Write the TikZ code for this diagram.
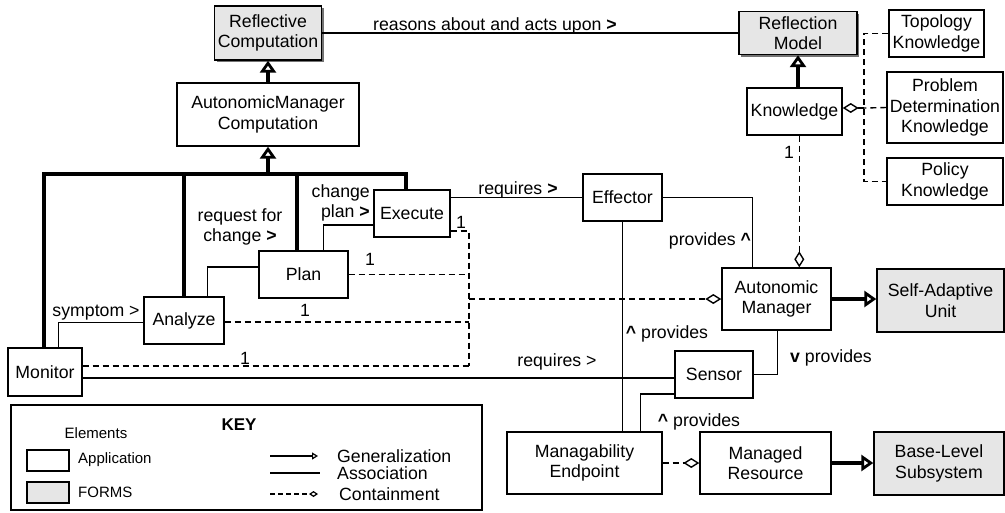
\documentclass[tikz,border=0pt]{standalone}
\usepackage{fontspec}
\setmainfont{Liberation Sans}
\usetikzlibrary{arrows.meta,calc,shadows}
\definecolor{formgray}{RGB}{230,230,230}
\newcommand{\mainsz}{\fontsize{17.7}{20.5}\selectfont}
\newcommand{\keysz}{\fontsize{15}{18}\selectfont}
\newcommand{\up}{{\bfseries\textasciicircum}}
\newcommand{\gt}{{\bfseries >}}
\begin{document}
\begin{tikzpicture}[x=1pt,y=-1pt,
  abox/.style={draw, line width=1.4pt, inner sep=0pt, align=center, font=\mainsz},
  fbox/.style={abox, fill=formgray},
  shadowed/.style={drop shadow={shadow xshift=2pt, shadow yshift=-2pt, fill=black!55, opacity=1}},
  lab/.style={inner sep=0pt, font=\mainsz},
  keytext/.style={inner sep=0pt, font=\keysz},
  assoc/.style={line width=1.4pt},
  bus/.style={line width=4pt},
  gen/.style={line width=4pt, -{Triangle[open, length=12pt, width=16pt, line width=2.8pt]}},
  contain/.style={line width=1.4pt, dash pattern=on 6pt off 4pt, -{Diamond[open, length=16pt, width=10pt, line width=1.4pt, sep=0pt]}},
  dashline/.style={line width=1.4pt, dash pattern=on 6pt off 4pt}
]
\useasboundingbox (0,0) rectangle (1005,512);

% ---------- nodes ----------
\node[fbox, shadowed, minimum width=107pt, minimum height=54pt] (rc) at (268,33) {Reflective\\Computation};
\node[abox, minimum width=182pt, minimum height=63pt] (amc) at (268,114.5) {AutonomicManager\\Computation};
\node[fbox, shadowed, minimum width=118pt, minimum height=43pt] (rm) at (798,33) {Reflection\\Model};
\node[abox, minimum width=95pt, minimum height=47pt] (know) at (794.5,111.5) {Knowledge};
\node[abox, minimum width=95pt, minimum height=47pt] (topo) at (936.5,33.5) {Topology\\Knowledge};
\node[abox, minimum width=116pt, minimum height=71pt] (pdk) at (945,107.5) {Problem\\Determination\\Knowledge};
\node[abox, minimum width=116pt, minimum height=47pt] (pol) at (945,181.5) {Policy\\Knowledge};
\node[abox, minimum width=76pt, minimum height=47pt] (exe) at (412,213.5) {Execute};
\node[abox, minimum width=89pt, minimum height=47pt] (plan) at (303.5,274.5) {Plan};
\node[abox, minimum width=80pt, minimum height=47pt] (ana) at (184,320.5) {Analyze};
\node[abox, minimum width=74pt, minimum height=48pt] (mon) at (45,372) {Monitor};
\node[abox, minimum width=79pt, minimum height=47pt] (eff) at (622.5,197.5) {Effector};
\node[abox, minimum width=109pt, minimum height=62pt] (am) at (776.5,299) {Autonomic\\Manager};
\node[fbox, minimum width=127pt, minimum height=63pt] (sau) at (940.5,300.5) {Self-Adaptive\\Unit};
\node[abox, minimum width=78pt, minimum height=47pt] (sen) at (714,374.5) {Sensor};
\node[abox, minimum width=155pt, minimum height=62pt] (mep) at (584.5,463) {Managability\\Endpoint};
\node[abox, minimum width=131pt, minimum height=62pt] (mr) at (765.5,463) {Managed\\Resource};
\node[fbox, minimum width=130pt, minimum height=63pt] (bls) at (939,463.5) {Base-Level\\Subsystem};

% ---------- generalization tree ----------
\coordinate (b1) at (44,174);
\coordinate (b2) at (184,174);
\coordinate (b3) at (297,174);
\coordinate (b4) at (406,174);
\coordinate (bm) at (268,174);
\draw[bus, line join=miter] (b1 |- mon.north) -- (b1) -- (b4) -- (b4 |- exe.north);
\draw[bus] (b2) -- (b2 |- ana.north);
\draw[bus] (b3) -- (b3 |- plan.north);
\draw[gen] (bm) -- (amc.south);
\draw[gen] (amc.north) -- (rc.south);
\draw[gen] (rm.south |- know.north) -- (rm.south);
\draw[gen] (am.east) -- (am.east -| sau.west);
\draw[gen] (mr.east) -- (mr.east -| bls.west);

% ---------- associations ----------
\draw[assoc] (rc.east) -- (rm.west);
\node[lab] (l1) at (495,26) {reasons about and acts upon \gt};

\draw[assoc] ($(mon.north west)+(51,0)$) |- ([yshift=-2pt]ana.west);
\node[lab] (l2) at (96,313) {symptom >};

\draw[assoc] ($(ana.north west)+(64,0)$) |- ([yshift=7.5pt]plan.west);
\node[lab, align=center] (l3) at (240,227) {request for\\change \gt};

\draw[assoc] ($(plan.north west)+(65,0)$) |- ([yshift=-11.5pt]exe.west);
\node[lab, align=right, anchor=east] (l4) at (370,203) {change\\plan \gt};

\draw[assoc] ([yshift=16pt]exe.east) -- ([yshift=16pt]exe.east -| eff.west);
\node[lab] (l5) at (518,190) {requires \gt};

\draw[assoc] (eff.east) -| ($(am.north west)+(31,0)$);
\node[lab] (l6) at (710,241) {provides \up};

\draw[assoc] (eff.south) -- (eff.south |- mep.north);
\node[lab] (l7) at (667,334) {\up{} provides};

\draw[assoc] (sen.east) -| ($(am.south west)+(56,0)$);
\node[lab] (l8) at (831,358) {{\bfseries v} provides};

\draw[assoc] ([yshift=-6pt]mon.east) -- ([yshift=-6pt]mon.east -| sen.west);
\node[lab] (l9) at (557,362) {requires >};

\draw[assoc] ($(mep.north west)+(134,0)$) |- ([yshift=-19.5pt]sen.west);
\node[lab] (l10) at (699,422) {\up{} provides};

% ---------- containment (left) ----------
\coordinate (sp) at (469,366);
\draw[dashline] ([yshift=-17.5pt]exe.east) -| (sp);
\draw[dashline] ([yshift=6pt]mon.east) -- (sp);
\draw[dashline] (plan.east) -- (plan.east -| sp);
\draw[dashline] ([yshift=-1.5pt]ana.east) -- ([yshift=-1.5pt]ana.east -| sp);
\draw[contain] (am.west -| sp) -- (am.west);
\node[lab] (n1) at (461,222) {1};
\node[lab] (n2) at (370,259) {1};
\node[lab] (n3) at (305,310) {1};
\node[lab] (n4) at (245,358) {1};

% ---------- containment (knowledge) ----------
\draw[contain] ($(know.south west)+(53,0)$) -- ($(am.north west)+(78,0)$);
\node[lab] (n5) at (789,152) {1};
\coordinate (ks) at (864,108);
\draw[dashline] (topo.west) -| (ks) |- (pol.west);
\draw[dashline] (pdk.west) -- (ks);
\draw[contain] (ks) -- (ks -| know.east);

% ---------- containment (bottom) ----------
\draw[contain] (mep.east) -- (mr.west);

% ---------- key ----------
\node[draw, line width=1.4pt, minimum width=471pt, minimum height=105pt, inner sep=0pt] (key) at (246.5,457.5) {};
\node[inner sep=0pt, font=\bfseries\fontsize{17}{20}\selectfont] (keyt) at (239,425) {KEY};
\node[keytext] (elem) at (96,433) {Elements};
\node[abox, minimum width=42pt, minimum height=21pt] (kapp) at (48,460.5) {};
\node[keytext, anchor=west] (kappt) at (78,460) {Application};
\node[fbox, minimum width=42pt, minimum height=21pt] (kform) at (48,492.5) {};
\node[keytext, anchor=west] (kformt) at (78,492) {FORMS};
\node[lab, anchor=west] (kgt) at (337,456) {Generalization};
\node[lab, anchor=west] (kat) at (337,473) {Association};
\node[lab, anchor=west] (kct) at (339,494) {Containment};
\coordinate (kg) at (270,456);
\coordinate (ka) at (270,473);
\coordinate (kc) at (270,494);
\draw[line width=1.2pt, -{Triangle[open, length=6pt, width=7pt]}] (kg) -- ([xshift=-19pt]kgt.west);
\draw[line width=1.2pt] (ka) -- ([xshift=-17pt]kat.west);
\draw[line width=1.2pt, dash pattern=on 5pt off 3pt, -{Diamond[open, length=9pt, width=6pt]}] (kc) -- ([xshift=-21pt]kct.west);
\end{tikzpicture}
\end{document}
